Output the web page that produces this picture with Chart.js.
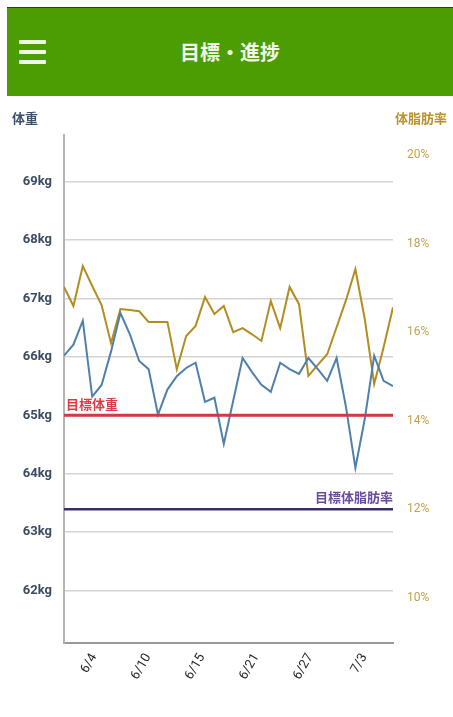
<!DOCTYPE html>
<html lang="ja">
<head>
<meta charset="utf-8">
<title>目標・進捗</title>
<script src="https://cdn.jsdelivr.net/npm/chart.js@4.4.1/dist/chart.umd.min.js"></script>
<style>
  html, body { margin:0; padding:0; background:#fff; }
  body { width:453px; height:717px; overflow:hidden; position:relative;
         font-family: Roboto, "Noto Sans CJK JP", sans-serif; }
  #topo { position:absolute; left:7px; top:7px; width:446px; height:88px;
          background:#4c9c04; border-top:1px solid #24470a; z-index:2; }
  .barra { position:absolute; left:12px; width:27px; height:4px; background:#eef6e4; border-radius:1px; }
  #titulo { position:absolute; left:0; right:0; top:29px; text-align:center;
            color:#f2f8e8; font-size:20px; font-weight:bold; font-family:"Noto Sans CJK JP", sans-serif; }
  .eixo-titulo { position:absolute; top:108px; font-size:13px; font-weight:bold;
                 font-family:"Noto Sans CJK JP", sans-serif; z-index:2; }
  #t-peso { left:12px; color:#3b4f6e; }
  #t-gord { left:395px; color:#b8922e; }
  #grafico { position:absolute; left:0; top:0; }
</style>
</head>
<body>
<div id="topo">
  <div class="barra" style="top:32px"></div>
  <div class="barra" style="top:42px"></div>
  <div class="barra" style="top:52px"></div>
  <div id="titulo">目標・進捗</div>
</div>
<div class="eixo-titulo" id="t-peso">体重</div>
<div class="eixo-titulo" id="t-gord">体脂肪率</div>
<canvas id="grafico" width="453" height="717"></canvas>

<script>
// dias 6/1 .. 7/6
const dias = ['6/1','6/2','6/3','6/4','6/5','6/6','6/7','6/8','6/9','6/10',
  '6/11','6/12','6/13','6/14','6/15','6/16','6/17','6/18','6/19','6/20',
  '6/21','6/22','6/23','6/24','6/25','6/26','6/27','6/28','6/29','6/30',
  '7/1','7/2','7/3','7/4','7/5','7/6'];

const peso = [66.02, 66.21, 66.62, 65.32, 65.52, 66.09, 66.75, 66.39, 65.93, 65.79,
  65.01, 65.44, 65.67, 65.81, 65.90, 65.23, 65.30, 64.51, 65.25, 65.98,
  65.74, 65.52, 65.40, 65.90, 65.79, 65.71, 65.98, 65.79, 65.59, 65.98,
  65.14, 64.10, 64.94, 66.02, 65.59, 65.50];

const gordura = [17.02, 16.59, 17.49, 17.04, 16.61, 15.75, 16.52, 16.50, 16.47, 16.23,
  16.23, 16.23, 15.16, 15.91, 16.14, 16.79, 16.41, 16.59, 16.00, 16.09,
  15.95, 15.80, 16.70, 16.09, 17.02, 16.63, 15.01, 15.26, 15.50, 16.11,
  16.72, 17.42, 16.29, 14.83, 15.66, 16.56];

const xTickDias = [3.2, 8.95, 14.7, 20.45, 26.2, 31.95];
const xTickLabels = ['6/4','6/10','6/15','6/21','6/27','7/3'];
const yTicksPeso = [62, 63, 64, 65, 66, 67, 68, 69];
const yTicksGordura = [10, 12, 14, 16, 18, 20];

const metaPeso = 65;
const metaGordura = 12;

const fonteCJK = '"Noto Sans CJK JP", sans-serif';

// linhas de meta desenhadas sobre as series
const metas = {
  id: 'metas',
  afterDatasetsDraw(chart){
    const { ctx, chartArea: a, scales } = chart;
    ctx.save();
    let y = scales.y.getPixelForValue(metaPeso);
    ctx.strokeStyle = '#d33a3f'; ctx.lineWidth = 3;
    ctx.beginPath(); ctx.moveTo(a.left, y); ctx.lineTo(a.right, y); ctx.stroke();
    ctx.fillStyle = '#e03a40'; ctx.font = 'bold 13px ' + fonteCJK;
    ctx.textAlign = 'left'; ctx.textBaseline = 'middle';
    ctx.fillText('目標体重', a.left + 2, y - 11);

    y = scales.y1.getPixelForValue(metaGordura);
    ctx.strokeStyle = '#3b2d6c'; ctx.lineWidth = 2.5;
    ctx.beginPath(); ctx.moveTo(a.left, y); ctx.lineTo(a.right, y); ctx.stroke();
    ctx.fillStyle = '#6a4c9e'; ctx.font = 'bold 13px ' + fonteCJK;
    ctx.textAlign = 'right';
    ctx.fillText('目標体脂肪率', a.right, y - 12);
    ctx.restore();
  }
};

const pontos = (arr) => arr.map((v, i) => ({ x: i, y: v }));

new Chart(document.getElementById('grafico').getContext('2d'), {
  type: 'line',
  data: {
    datasets: [
      { label:'体重', data: pontos(peso), yAxisID:'y', borderColor:'#4f80ab',
        borderWidth:2, pointRadius:0, tension:0 },
      { label:'体脂肪率', data: pontos(gordura), yAxisID:'y1', borderColor:'#b38d22',
        borderWidth:2, pointRadius:0, tension:0 }
    ]
  },
  options: {
    responsive:false,
    animation:false,
    layout:{ padding:{ top:135, left:0, right:0, bottom:0 } },
    plugins:{ legend:{ display:false }, tooltip:{ enabled:false } },
    scales:{
      x: {
        type:'linear', min:0, max:dias.length - 1,
        grid:{ display:false, drawTicks:false },
        border:{ color:'#9a9a9a', width:2 },
        afterBuildTicks: (ax) => { ax.ticks = xTickDias.map(v => ({ value:v })); },
        afterFit: (ax) => { ax.height = 74; },
        ticks:{ autoSkip:false, maxRotation:60, minRotation:60, padding:8, color:'#262626',
                font:{ size:13, family:'Roboto' },
                callback: (v, i) => xTickLabels[i] }
      },
      y: {
        position:'left', min:61.1, max:69.8,
        grid:{ color:'#d4d4d4', lineWidth:1.5, drawTicks:false },
        border:{ color:'#b4b4b4', width:2 },
        afterBuildTicks: (ax) => { ax.ticks = yTicksPeso.map(v => ({ value:v })); },
        afterFit: (ax) => { ax.width = 64; },
        ticks:{ padding:12, color:'#3b4b63', font:{ size:13, weight:'bold', family:'Roboto' },
                callback: (v) => v + 'kg' }
      },
      y1: {
        position:'right', min:8.98, max:20.45,
        grid:{ display:false, drawTicks:false },
        border:{ display:false },
        afterBuildTicks: (ax) => { ax.ticks = yTicksGordura.map(v => ({ value:v })); },
        afterFit: (ax) => { ax.width = 60; },
        ticks:{ padding:14, color:'#c2a24e', font:{ size:12, family:'Roboto' },
                callback: (v) => v + '%' }
      }
    }
  },
  plugins:[metas]
});
</script>
</body>
</html>
